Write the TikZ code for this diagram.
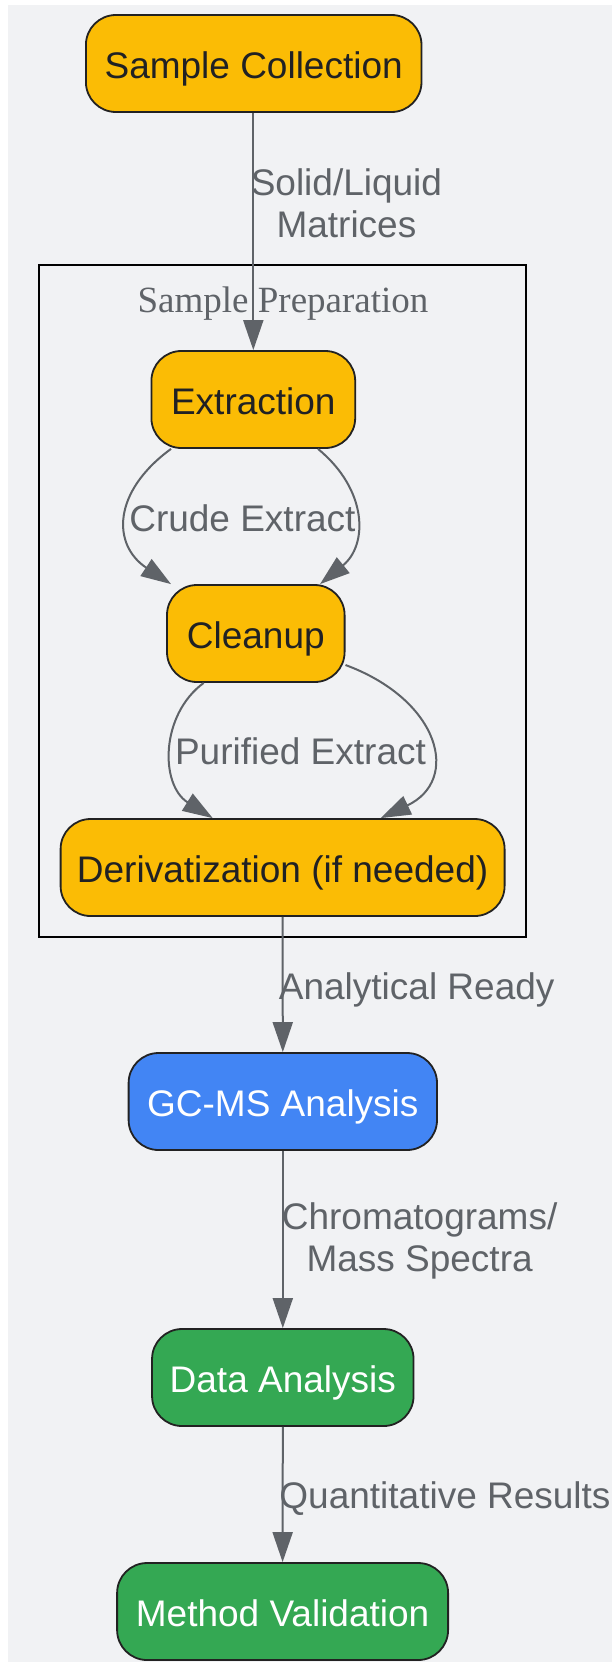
\documentclass[tikz,border=0pt]{standalone}
\usepackage{fontspec}
\setmainfont{Liberation Sans}
\newfontfamily\titleserif{Liberation Serif}
\usetikzlibrary{arrows.meta}
\definecolor{bgc}{HTML}{F1F2F4}
\definecolor{ylw}{HTML}{FBBC05}
\definecolor{blu}{HTML}{4285F4}
\definecolor{grn}{HTML}{34A853}
\definecolor{edgec}{HTML}{5F6368}
\definecolor{txtc}{HTML}{202124}
\definecolor{bordc}{HTML}{222222}
\tikzset{
  box/.style={draw=bordc, line width=1.8pt, rounded corners=30pt, inner sep=0pt,
    minimum height=97pt, text height=29.4pt, text depth=0pt, font=\fontsize{37}{41.7}\selectfont},
  ybox/.style={box, fill=ylw, text=txtc},
  bbox/.style={box, fill=blu, text=white},
  gbox/.style={box, fill=grn, text=white},
  conn/.style={draw=edgec, line width=2pt, -{Triangle[length=30pt,width=20pt]}},
  elabel2/.style={text=edgec, font=\fontsize{37}{41.7}\selectfont, align=center, inner sep=0pt},
  elabel/.style={elabel2, text height=26.5pt, text depth=0pt},
}
\begin{document}
\begin{tikzpicture}[x=1pt,y=-1pt]
\useasboundingbox (0,0) rectangle (612,1662);
\fill[white] (0,0) rectangle (612,1662);
\fill[bgc] (8,5) rectangle (612,1662);
% cluster
\draw[black, line width=2pt] (39,265) rectangle (526,937);
\node[text=edgec, font=\titleserif\fontsize{37}{42}\selectfont, inner sep=0pt, text height=24.5pt, text depth=0pt] (clt) at (283,300) {Sample Preparation};
% nodes
\node[ybox, minimum width=335.6pt] (sc) at (253.7,63.5) {Sample Collection};
\node[ybox, minimum width=203.8pt] (ex) at (253.3,399.5) {Extraction};
\node[ybox, minimum width=177.6pt] (cl) at (255.8,633.5) {Cleanup};
\node[ybox, minimum width=444pt] (de) at (282.6,867.5) {Derivatization (if needed)};
\node[bbox, minimum width=308.4pt] (gc) at (282.8,1101.5) {GC-MS Analysis};
\node[gbox, minimum width=261.5pt] (da) at (282.8,1377.5) {Data Analysis};
\node[gbox, minimum width=331pt] (mv) at (282.6,1611.5) {Method Validation};
% edges
\draw[conn] (sc.south -| ex.north) -- (ex.north);
\node[elabel2] (l1) at (346.4,203.5) {Solid/Liquid\\Matrices};
\draw[conn] ([xshift=-82.3pt]ex.south) .. controls (112,492) and (112,545) .. ([xshift=-84.8pt]cl.north);
\draw[conn] ([xshift=64.7pt]ex.south) .. controls (368,490) and (368,545) .. ([xshift=64.2pt]cl.north);
\node[elabel] (l2) at (242.4,518) {Crude Extract};
\draw[conn] ([xshift=-52.1pt]cl.south) .. controls (160,715) and (160,785) .. ([xshift=-69.9pt]de.north);
\draw[conn] (cl.east |- 0,665) .. controls (440,700) and (461,780) .. ([xshift=98pt]de.north);
\node[elabel] (l3) at (300.5,751.5) {Purified Extract};
\draw[conn] (de.south) -- (gc.north);
\node[elabel] (l4) at (416.7,986) {Analytical Ready};
\draw[conn] (gc.south) -- (da.north);
\node[elabel2] (l5) at (419.6,1241) {Chromatograms/\\Mass Spectra};
\draw[conn] (da.south) -- (mv.north);
\node[elabel] (l6) at (445,1495.7) {Quantitative Results};
\end{tikzpicture}
\end{document}
